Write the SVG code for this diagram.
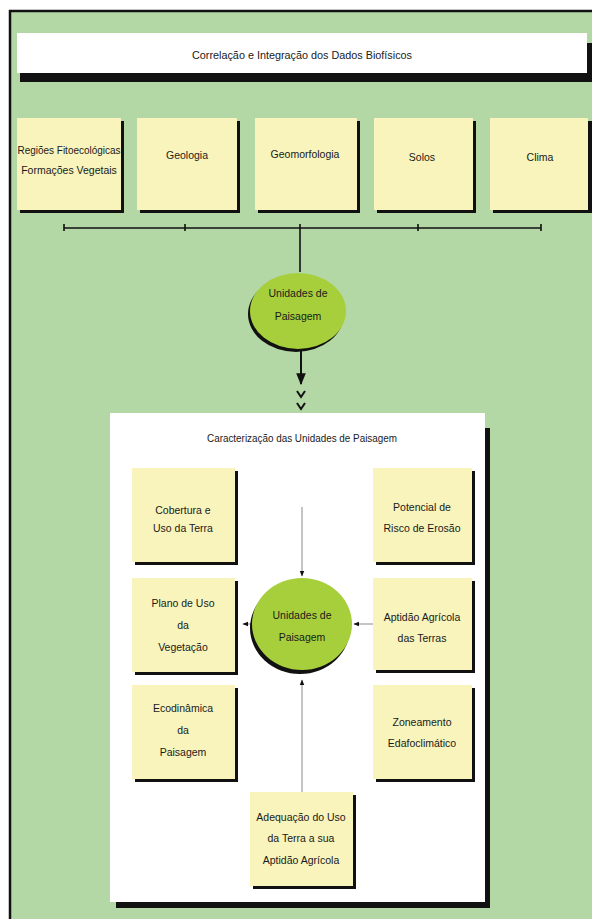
<svg xmlns="http://www.w3.org/2000/svg" width="592" height="919" viewBox="0 0 592 919">
<defs>
<style>
.t{font-family:"Liberation Sans",Arial,sans-serif;font-size:10.5px;fill:#1a1a1a;text-anchor:middle}
.box{fill:#f8f4bc}
.sh{fill:#111}
.gl{stroke:#8a8a8a;stroke-width:1;fill:none}
.bl{stroke:#111;stroke-width:1.6;fill:none}
</style>
<marker id="ah" viewBox="0 0 10 10" refX="9" refY="5" markerWidth="6" markerHeight="6" orient="auto">
<path d="M0,1 L10,5 L0,9 Z" fill="#111"/>
</marker>
</defs>
<rect x="0" y="0" width="592" height="919" fill="#ffffff"/>
<rect x="10" y="11" width="582" height="908" fill="#b3d8a6"/>
<path d="M10,919 V11 H592" stroke="#111" stroke-width="2.5" fill="none"/>

<g id="title">
<rect class="sh" x="20" y="43" width="572" height="39"/>
<rect x="17" y="33" width="570" height="40" fill="#ffffff"/>
<text class="t" x="302" y="59" textLength="220" lengthAdjust="spacingAndGlyphs">Correlação e Integração dos Dados Biofísicos</text>
</g>

<g id="caracterizacao">
<rect class="sh" x="116" y="428" width="374" height="480"/>
<rect x="110" y="413" width="375" height="489" fill="#ffffff"/>
<text class="t" x="302" y="442" textLength="190" lengthAdjust="spacingAndGlyphs">Caracterização das Unidades de Paisagem</text>
</g>

<g id="connectors">
<line class="bl" x1="64" y1="228" x2="541" y2="228"/>
<path class="bl" d="M64,224 V231 M185,224 V231 M418,224 V231 M541,224 V231"/>
<line class="bl" x1="300" y1="224" x2="300" y2="272"/>
<line x1="301" y1="350" x2="301" y2="384" stroke="#111" stroke-width="2" marker-end="url(#ah)"/>
<path d="M297,391 L301,397 L305,391" stroke="#111" stroke-width="2" fill="none"/>
<path d="M297,403 L301,409 L305,403" stroke="#111" stroke-width="2" fill="none"/>
<line class="gl" x1="302" y1="507" x2="302" y2="576" marker-end="url(#ah)"/>
<line class="gl" x1="373" y1="624" x2="354" y2="624" marker-end="url(#ah)"/>
<line class="gl" x1="252" y1="624" x2="243" y2="624" marker-end="url(#ah)"/>
<line class="gl" x1="302" y1="792" x2="302" y2="680" marker-end="url(#ah)"/>
</g>

<g id="regioes">
<rect class="sh" x="20" y="121" width="104" height="92"/>
<rect class="box" x="17" y="118" width="104" height="92"/>
<text class="t" x="69" y="154" textLength="103" lengthAdjust="spacingAndGlyphs">Regiões Fitoecológicas</text>
<text class="t" x="69" y="174">Formações Vegetais</text>
</g>
<g id="geologia">
<rect class="sh" x="140" y="121" width="100" height="92"/>
<rect class="box" x="137" y="118" width="100" height="92"/>
<text class="t" x="187" y="159">Geologia</text>
</g>
<g id="geomorfologia">
<rect class="sh" x="258" y="121" width="102" height="92"/>
<rect class="box" x="255" y="118" width="102" height="92"/>
<text class="t" x="305" y="158">Geomorfologia</text>
</g>
<g id="solos">
<rect class="sh" x="377" y="121" width="99" height="92"/>
<rect class="box" x="374" y="118" width="99" height="92"/>
<text class="t" x="422" y="161">Solos</text>
</g>
<g id="clima">
<rect class="sh" x="493" y="121" width="99" height="92"/>
<rect class="box" x="490" y="118" width="98" height="92"/>
<text class="t" x="540" y="161">Clima</text>
</g>

<g id="unidades1">
<ellipse cx="296" cy="314" rx="48" ry="38" fill="#111"/>
<ellipse cx="298" cy="311" rx="48" ry="38" fill="#a7cf3c"/>
<text class="t" x="298" y="297">Unidades de</text>
<text class="t" x="298" y="320">Paisagem</text>
</g>

<g id="cobertura">
<rect class="sh" x="135" y="471" width="103" height="94"/>
<rect class="box" x="132" y="468" width="103" height="94"/>
<text class="t" x="183" y="514">Cobertura e</text>
<text class="t" x="183" y="532">Uso da Terra</text>
</g>
<g id="potencial">
<rect class="sh" x="376" y="471" width="99" height="94"/>
<rect class="box" x="373" y="468" width="99" height="94"/>
<text class="t" x="422" y="511">Potencial de</text>
<text class="t" x="422" y="532">Risco de Erosão</text>
</g>
<g id="plano">
<rect class="sh" x="135" y="581" width="103" height="94"/>
<rect class="box" x="132" y="578" width="103" height="94"/>
<text class="t" x="183" y="607">Plano de Uso</text>
<text class="t" x="183" y="629">da</text>
<text class="t" x="183" y="651">Vegetação</text>
</g>
<g id="aptidao">
<rect class="sh" x="376" y="581" width="99" height="92"/>
<rect class="box" x="373" y="578" width="99" height="92"/>
<text class="t" x="422" y="621">Aptidão Agrícola</text>
<text class="t" x="422" y="642">das Terras</text>
</g>
<g id="unidades2">
<ellipse cx="300" cy="628" rx="50" ry="46" fill="#111"/>
<ellipse cx="302" cy="624" rx="50" ry="46" fill="#a7cf3c"/>
<text class="t" x="302" y="619">Unidades de</text>
<text class="t" x="302" y="641">Paisagem</text>
</g>
<g id="ecodinamica">
<rect class="sh" x="135" y="688" width="103" height="94"/>
<rect class="box" x="132" y="685" width="103" height="94"/>
<text class="t" x="183" y="712">Ecodinâmica</text>
<text class="t" x="183" y="734">da</text>
<text class="t" x="183" y="756">Paisagem</text>
</g>
<g id="zoneamento">
<rect class="sh" x="376" y="688" width="99" height="94"/>
<rect class="box" x="373" y="685" width="99" height="94"/>
<text class="t" x="422" y="726">Zoneamento</text>
<text class="t" x="422" y="747">Edafoclimático</text>
</g>
<g id="adequacao">
<rect class="sh" x="253" y="795" width="103" height="94"/>
<rect class="box" x="250" y="792" width="103" height="94"/>
<text class="t" x="301" y="821">Adequação do Uso</text>
<text class="t" x="301" y="842">da Terra a sua</text>
<text class="t" x="301" y="864">Aptidão Agrícola</text>
</g>
</svg>
